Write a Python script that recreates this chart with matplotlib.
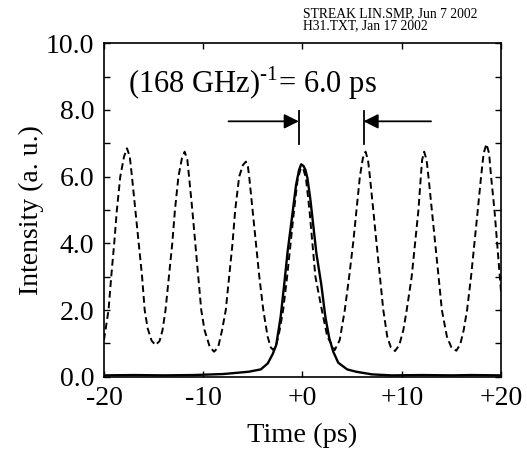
import matplotlib
matplotlib.use("Agg")
import matplotlib.pyplot as plt

plt.rcParams["font.family"] = ["Liberation Serif", "DejaVu Serif"]
plt.rcParams["mathtext.fontset"] = "custom"
plt.rcParams["mathtext.rm"] = "Liberation Serif"

# --------------------------------------------------------------------------- #
# Data (time in ps, intensity in a.u.)
# --------------------------------------------------------------------------- #
# dashed: 168 GHz pulse train
train_t = [
    -20.0, -19.54, -19.27, -18.97, -18.7, -18.36, -17.98, -17.68, -17.4, -17.18,
    -16.84, -16.5, -16.16, -15.9, -15.6, -15.2, -14.81, -14.4, -14.1, -13.8,
    -13.46, -13.12, -12.85, -12.5, -12.15, -11.87, -11.6, -11.43, -11.1, -10.8,
    -10.5, -10.2, -9.87, -9.35, -8.91, -8.5, -8.1, -7.73, -7.39, -7.05,
    -6.78, -6.38, -6.0, -5.7, -5.5, -5.37, -5.03, -4.69, -4.35, -3.95,
    -3.51, -3.2, -2.94, -2.6, -2.3, -1.95, -1.55, -1.2, -0.85, -0.5,
    -0.2, 0.05, 0.35, 0.7, 1.0, 1.3, 1.95, 2.5, 3.25, 3.75,
    4.26, 4.7, 5.1, 5.44, 5.78, 6.08, 6.35, 6.6, 6.79, 7.13,
    7.46, 7.8, 8.14, 8.54, 8.9, 9.32, 9.75, 10.16, 10.5, 11.0,
    11.34, 11.68, 11.92, 12.05, 12.26, 12.5, 12.69, 13.03, 13.37, 13.71,
    14.04, 14.55, 15.0, 15.5, 15.9, 16.24, 16.58, 16.98, 17.32, 17.66,
    17.99, 18.25, 18.53, 18.8, 19.0, 19.34, 19.61, 19.88, 20.0,
]
train_i = [
    1.1, 2.0, 3.0, 4.0, 5.0, 6.0, 6.6, 6.85, 6.6, 6.0,
    5.0, 4.0, 3.0, 2.0, 1.45, 1.08, 0.95, 1.07, 1.4, 2.0,
    3.0, 4.0, 5.0, 6.0, 6.55, 6.75, 6.5, 6.0, 5.0, 4.0,
    3.0, 2.0, 1.4, 0.9, 0.75, 0.88, 1.4, 2.0, 3.0, 4.0,
    5.0, 6.0, 6.35, 6.45, 6.3, 6.0, 5.0, 4.0, 3.0, 2.0,
    1.2, 0.88, 0.8, 1.0, 1.4, 2.0, 3.0, 4.0, 5.0, 5.9,
    6.22, 6.27, 5.95, 5.0, 4.0, 3.0, 2.0, 1.2, 0.8, 1.1,
    2.0, 3.0, 4.0, 5.0, 6.0, 6.55, 6.75, 6.5, 6.0, 5.0,
    4.0, 3.0, 2.0, 1.2, 0.88, 0.77, 0.95, 1.4, 2.0, 3.0,
    4.0, 5.0, 6.0, 6.5, 6.75, 6.5, 6.0, 5.0, 4.0, 3.0,
    2.0, 1.2, 0.88, 0.78, 0.98, 1.4, 2.0, 3.0, 4.0, 5.0,
    6.0, 6.7, 6.98, 6.7, 6.0, 5.0, 4.0, 3.0, 2.55,
]

# solid: streak camera pulse
pulse_t = [
    -20.0, -17.0, -14.0, -11.0, -8.0, -6.5, -5.4, -4.2, -3.5, -3.0,
    -2.65, -2.2, -1.85, -1.5, -1.05, -0.65, -0.35, -0.13, 0.1, 0.3,
    0.5, 0.8, 1.1, 1.4, 1.9, 2.3, 2.7, 3.1, 3.6, 4.5,
    5.4, 7.0, 9.0, 12.0, 15.0, 17.0, 20.0,
]
pulse_i = [
    0.04, 0.05, 0.04, 0.05, 0.08, 0.12, 0.15, 0.22, 0.4, 0.68,
    0.95, 1.8, 2.75, 3.75, 4.8, 5.75, 6.2, 6.37, 6.32, 6.2,
    5.95, 5.3, 4.5, 3.7, 2.75, 1.8, 1.15, 0.75, 0.42, 0.22,
    0.15, 0.07, 0.04, 0.05, 0.04, 0.05, 0.04,
]

x_ticks = [-20, -10, 0, 10, 20]
x_labels = ["-20", "-10", "+0", "+10", "+20"]
y_ticks = [0, 2, 4, 6, 8, 10]
y_labels = ["0.0", "2.0", "4.0", "6.0", "8.0", "10.0"]

# period markers (ps) and arrows
mark_left, mark_right = -0.37, 6.15
arrow_y = 7.66

fig = plt.figure(figsize=(5.27, 4.53), dpi=100)
ax = fig.add_axes([0.1973, 0.1684, 0.7534, 0.736])

ax.plot(train_t, train_i, color="black", lw=1.4, ls=(0, (3.5, 2.0)))
ax.plot(pulse_t, pulse_i, color="black", lw=1.7)

ax.set_xlim(-20, 20)
ax.set_ylim(0, 10)
ax.set_xticks(x_ticks)
ax.set_xticklabels(x_labels)
ax.set_yticks(y_ticks)
ax.set_yticklabels(y_labels)
ax.set_yticks([1, 3, 5, 7, 9], minor=True)
ax.tick_params(which="both", direction="in", top=True, right=True,
               length=4.5, width=1.0, labelsize=20, pad=7)
for s in ax.spines.values():
    s.set_linewidth(1.2)

ax.set_xlabel("Time (ps)", fontsize=20.5, labelpad=8)
ax.set_ylabel("Intensity (a. u.)", fontsize=20, labelpad=1)

# 6 ps spacing annotation
for xm in (mark_left, mark_right):
    ax.plot([xm, xm], [6.98, 7.96], color="black", lw=1.3)
ax.annotate("", xy=(mark_left, arrow_y), xytext=(-7.45, arrow_y),
            arrowprops=dict(arrowstyle="-|>", color="black", lw=1.3,
                            mutation_scale=22, shrinkA=0, shrinkB=0))
ax.annotate("", xy=(mark_right, arrow_y), xytext=(12.95, arrow_y),
            arrowprops=dict(arrowstyle="-|>", color="black", lw=1.3,
                            mutation_scale=22, shrinkA=0, shrinkB=0))
ax.text(-17.6, 8.81, "(168 GHz)$^{\\mathregular{\u2010}1}$= 6.0 ps",
        fontsize=22, ha="left", va="center")

fig.text(0.575, 0.985, "STREAK LIN.SMP, Jun 7 2002\nH31.TXT, Jan 17 2002",
         fontsize=9.8, ha="left", va="top", linespacing=0.95)

fig.savefig("out.png", dpi=100)
